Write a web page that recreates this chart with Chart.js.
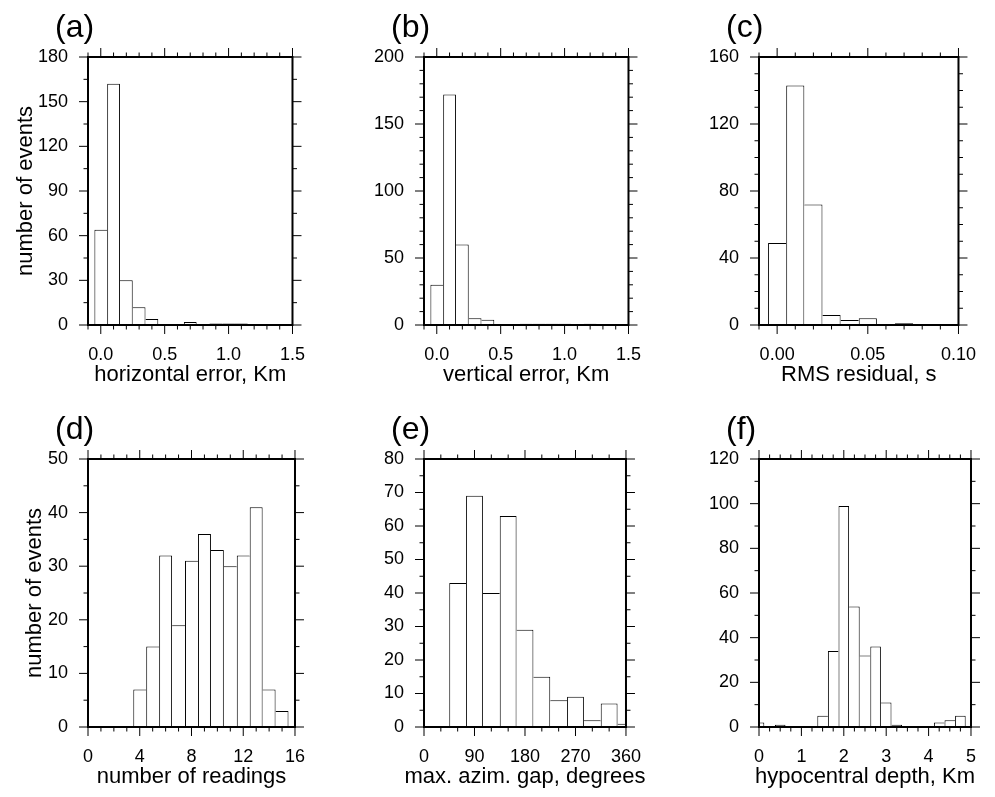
<!DOCTYPE html>
<html>
<head>
<meta charset="utf-8">
<title>Event statistics histograms</title>
<script src="https://cdn.jsdelivr.net/npm/chart.js@4.4.1/dist/chart.umd.min.js"></script>
<style>
    html, body { margin: 0; padding: 0; background: #fff; overflow: hidden; }
    body { width: 995px; height: 797px; position: relative; }
    .panel { position: absolute; width: 324px; height: 390px; }
</style>
</head>
<body>
<div class="panel" style="left:0px;top:0px"><canvas id="chartA" width="324" height="390"></canvas></div>
<div class="panel" style="left:336px;top:0px"><canvas id="chartB" width="324" height="390"></canvas></div>
<div class="panel" style="left:671px;top:0px"><canvas id="chartC" width="324" height="390"></canvas></div>
<div class="panel" style="left:0px;top:402px"><canvas id="chartD" width="324" height="390"></canvas></div>
<div class="panel" style="left:336px;top:402px"><canvas id="chartE" width="324" height="390"></canvas></div>
<div class="panel" style="left:671px;top:402px"><canvas id="chartF" width="324" height="390"></canvas></div>

<script>
// (a) horizontal error
var horizBins = [0.0, 0.1, 0.2, 0.3, 0.4, 0.5, 0.6, 0.7, 0.8, 0.9, 1.0, 1.1];
var horizCounts = [64, 162, 30, 12, 4, 0, 0, 2, 0, 1, 1, 1];
var horizXTicks = [0, 0.5, 1.0, 1.5];
var horizXLabels = ['0.0', '0.5', '1.0', '1.5'];
var horizYTicks = [0, 30, 60, 90, 120, 150, 180];
var horizYLabels = ['0', '30', '60', '90', '120', '150', '180'];

// (b) vertical error
var vertBins = [0.0, 0.1, 0.2, 0.3, 0.4, 0.5, 0.6, 0.7, 0.8, 0.9, 1.0, 1.1, 1.2];
var vertCounts = [30, 172, 60, 5, 4, 0, 0, 1, 1, 1, 1, 0, 1];
var vertXTicks = [0, 0.5, 1.0, 1.5];
var vertXLabels = ['0.0', '0.5', '1.0', '1.5'];
var vertYTicks = [0, 50, 100, 150, 200];
var vertYLabels = ['0', '50', '100', '150', '200'];

// (c) RMS residual
var rmsBins = [0.00, 0.01, 0.02, 0.03, 0.04, 0.05, 0.06, 0.07];
var rmsCounts = [49, 143, 72, 6, 3, 4, 0, 1];
var rmsXTicks = [0, 0.05, 0.10];
var rmsXLabels = ['0.00', '0.05', '0.10'];
var rmsYTicks = [0, 40, 80, 120, 160];
var rmsYLabels = ['0', '40', '80', '120', '160'];

// (d) number of readings
var readBins = [4, 5, 6, 7, 8, 9, 10, 11, 12, 13, 14, 15];
var readCounts = [7, 15, 32, 19, 31, 36, 33, 30, 32, 41, 7, 3];
var readXTicks = [0, 4, 8, 12, 16];
var readXLabels = ['0', '4', '8', '12', '16'];
var readYTicks = [0, 10, 20, 30, 40, 50];
var readYLabels = ['0', '10', '20', '30', '40', '50'];

// (e) max. azimuthal gap
var gapBins = [60, 90, 120, 150, 180, 210, 240, 270, 300, 330, 360];
var gapCounts = [43, 69, 40, 63, 29, 15, 8, 9, 2, 7, 1];
var gapXTicks = [0, 90, 180, 270, 360];
var gapXLabels = ['0', '90', '180', '270', '360'];
var gapYTicks = [0, 10, 20, 30, 40, 50, 60, 70, 80];
var gapYLabels = ['0', '10', '20', '30', '40', '50', '60', '70', '80'];

// (f) hypocentral depth
var depthBins = [0, 0.25, 0.5, 0.75, 1.0, 1.25, 1.5, 1.75, 2.0, 2.25, 2.5, 2.75,
                 3.0, 3.25, 3.5, 3.75, 4.0, 4.25, 4.5, 4.75];
var depthCounts = [2, 0, 1, 0, 0, 0, 5, 34, 99, 54, 32, 36, 11, 1, 0, 0, 0, 2, 3, 5];
var depthXTicks = [0, 1, 2, 3, 4, 5];
var depthXLabels = ['0', '1', '2', '3', '4', '5'];
var depthYTicks = [0, 20, 40, 60, 80, 100, 120];
var depthYLabels = ['0', '20', '40', '60', '80', '100', '120'];

var FONT = '"Liberation Sans", Arial, Helvetica, sans-serif';
Chart.defaults.font.family = FONT;
Chart.defaults.color = '#000';

// frame with outward ticks on all four sides, panel letter and x title
var gmtFrame = {
    id: 'gmtFrame',
    afterDraw: function (chart, args, opts) {
        var ctx = chart.ctx;
        var a = chart.chartArea;
        var xs = chart.scales.x, ys = chart.scales.y;

        function tickValues(min, max, step) {
            var out = [];
            var n = Math.round((max - min) / step);
            for (var k = 0; k <= n; k++) out.push(min + k * step);
            return out;
        }
        function isMajor(v, major) {
            var r = v / major;
            return Math.abs(r - Math.round(r)) < 1e-6;
        }

        ctx.save();
        ctx.strokeStyle = '#000';
        ctx.lineWidth = 1;
        ctx.beginPath();
        tickValues(xs.min, xs.max, opts.xMinor).forEach(function (v) {
            var px = xs.getPixelForValue(v);
            var len = isMajor(v, opts.xMajor) ? 9 : 4.5;
            ctx.moveTo(px, a.bottom); ctx.lineTo(px, a.bottom + len);
            ctx.moveTo(px, a.top); ctx.lineTo(px, a.top - len);
        });
        tickValues(ys.min, ys.max, opts.yMinor).forEach(function (v) {
            var py = ys.getPixelForValue(v);
            var len = isMajor(v, opts.yMajor) ? 9 : 4.5;
            ctx.moveTo(a.left, py); ctx.lineTo(a.left - len, py);
            ctx.moveTo(a.right, py); ctx.lineTo(a.right + len, py);
        });
        ctx.stroke();

        ctx.lineWidth = 2;
        ctx.strokeRect(a.left, a.top, a.right - a.left, a.bottom - a.top);

        ctx.fillStyle = '#000';
        ctx.textBaseline = 'alphabetic';

        ctx.font = '32px ' + FONT;
        ctx.textAlign = 'left';
        ctx.fillText(opts.letter, a.left - 33, a.top - 20.5);

        ctx.font = '22px ' + FONT;
        ctx.textAlign = 'center';
        ctx.fillText(opts.xTitle, (a.left + a.right) / 2, a.bottom + 55.5);
        ctx.restore();
    }
};

function makeHist(canvasId, letter, bins, counts, xAxis, yAxis) {
    var ctx = document.getElementById(canvasId).getContext('2d');
    var points = bins.map(function (b, i) { return { x: b, y: counts[i] }; });

    return new Chart(ctx, {
        type: 'bar',
        data: {
            datasets: [{
                data: points,
                backgroundColor: '#ffffff',
                borderColor: '#000000',
                // shared edges drawn once, by the taller bar
                borderWidth: function (c) {
                    var i = c.dataIndex;
                    var h = counts[i];
                    var prev = i > 0 ? counts[i - 1] : 0;
                    var next = i < counts.length - 1 ? counts[i + 1] : 0;
                    return { top: 1, bottom: 0, left: prev > h ? 0 : 1, right: next >= h ? 0 : 1 };
                },
                borderSkipped: false,
                inflateAmount: 0,
                barPercentage: 1,
                categoryPercentage: 1,
                clip: 0
            }]
        },
        options: {
            responsive: false,
            animation: false,
            layout: { padding: { left: 0, top: 57, right: 20, bottom: 0 } },
            plugins: {
                legend: { display: false },
                tooltip: { enabled: false },
                gmtFrame: {
                    letter: letter,
                    xTitle: xAxis.title,
                    xMinor: xAxis.minor, xMajor: xAxis.major,
                    yMinor: yAxis.minor, yMajor: yAxis.major
                }
            },
            scales: {
                x: {
                    type: 'linear',
                    offset: false,
                    min: xAxis.min,
                    max: xAxis.max,
                    grid: { display: false, drawTicks: false },
                    border: { display: false },
                    afterBuildTicks: function (s) {
                        s.ticks = xAxis.ticks.map(function (v) { return { value: v }; });
                    },
                    afterFit: function (s) { s.height = 65; },
                    ticks: {
                        autoSkip: false,
                        maxRotation: 0,
                        minRotation: 0,
                        padding: 19,
                        font: { size: 18 },
                        callback: function (v, i) { return xAxis.labels[i]; }
                    }
                },
                y: {
                    min: 0,
                    max: yAxis.max,
                    grid: { display: false, drawTicks: false },
                    border: { display: false },
                    afterBuildTicks: function (s) {
                        s.ticks = yAxis.ticks.map(function (v) { return { value: v }; });
                    },
                    afterFit: function (s) { s.width = 88; },
                    ticks: {
                        autoSkip: false,
                        padding: 20,
                        font: { size: 18 },
                        callback: function (v, i) { return yAxis.labels[i]; }
                    },
                    title: {
                        display: !!yAxis.title,
                        text: yAxis.title || '',
                        font: { size: 22 },
                        padding: { top: yAxis.titlePad || 0, bottom: 0 }
                    }
                }
            }
        },
        plugins: [gmtFrame]
    });
}

makeHist('chartA', '(a)', horizBins, horizCounts,
    { min: -0.1, max: 1.5, minor: 0.1, major: 0.5, ticks: horizXTicks, labels: horizXLabels, title: 'horizontal error, Km' },
    { max: 180, minor: 15, major: 30, ticks: horizYTicks, labels: horizYLabels, title: 'number of events', titlePad: 13 });

makeHist('chartB', '(b)', vertBins, vertCounts,
    { min: -0.1, max: 1.5, minor: 0.1, major: 0.5, ticks: vertXTicks, labels: vertXLabels, title: 'vertical error, Km' },
    { max: 200, minor: 10, major: 50, ticks: vertYTicks, labels: vertYLabels });

makeHist('chartC', '(c)', rmsBins, rmsCounts,
    { min: -0.01, max: 0.10, minor: 0.01, major: 0.05, ticks: rmsXTicks, labels: rmsXLabels, title: 'RMS residual, s' },
    { max: 160, minor: 10, major: 40, ticks: rmsYTicks, labels: rmsYLabels });

makeHist('chartD', '(d)', readBins, readCounts,
    { min: 0, max: 16, minor: 1, major: 4, ticks: readXTicks, labels: readXLabels, title: 'number of readings' },
    { max: 50, minor: 5, major: 10, ticks: readYTicks, labels: readYLabels, title: 'number of events', titlePad: 22 });

makeHist('chartE', '(e)', gapBins, gapCounts,
    { min: 0, max: 360, minor: 30, major: 90, ticks: gapXTicks, labels: gapXLabels, title: 'max. azim. gap, degrees' },
    { max: 80, minor: 5, major: 10, ticks: gapYTicks, labels: gapYLabels });

makeHist('chartF', '(f)', depthBins, depthCounts,
    { min: 0, max: 5, minor: 0.25, major: 1, ticks: depthXTicks, labels: depthXLabels, title: 'hypocentral depth, Km' },
    { max: 120, minor: 10, major: 20, ticks: depthYTicks, labels: depthYLabels });
</script>
</body>
</html>
